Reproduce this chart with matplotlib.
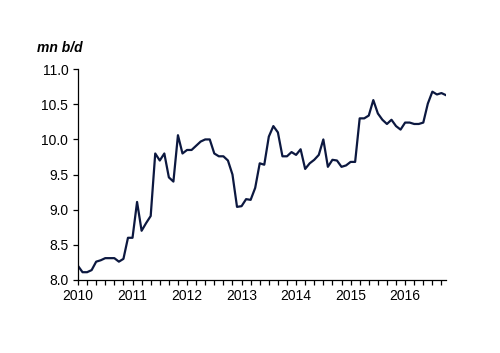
import numpy as np
import matplotlib.pyplot as plt
from matplotlib.ticker import MultipleLocator

plt.rcParams['font.family'] = ['Liberation Sans', 'DejaVu Sans']

# monthly output, Jan 2010 .. Oct 2016 (mn b/d)
start_year = 2010
output = [
    8.20, 8.11, 8.11, 8.14, 8.26, 8.28, 8.31, 8.31, 8.31, 8.26, 8.30, 8.60,
    8.60, 9.11, 8.70, 8.81, 8.91, 9.80, 9.70, 9.80, 9.46, 9.40, 10.06, 9.80,
    9.85, 9.85, 9.91, 9.97, 10.00, 10.00, 9.80, 9.76, 9.76, 9.70, 9.50, 9.04,
    9.05, 9.15, 9.14, 9.31, 9.66, 9.64, 10.04, 10.19, 10.10, 9.76, 9.76, 9.82,
    9.78, 9.86, 9.58, 9.66, 9.71, 9.78, 10.00, 9.61, 9.71, 9.70, 9.61, 9.63,
    9.68, 9.68, 10.30, 10.30, 10.34, 10.56, 10.37, 10.28, 10.22, 10.28, 10.19, 10.14,
    10.24, 10.24, 10.22, 10.22, 10.24, 10.51, 10.68, 10.64, 10.66, 10.63,
]
year_labels = [2010, 2011, 2012, 2013, 2014, 2015, 2016]
unit_label = "mn b/d"

x = start_year + np.arange(len(output)) / 12

fig = plt.figure(figsize=(5, 3.53), dpi=100)
ax = fig.add_axes([0.156, 0.207, 0.736, 0.597])

ax.plot(x, output, color="#0c1840", linewidth=1.6)

ax.set_xlim(start_year, x[-1])
ax.set_ylim(8.0, 11.0)
ax.set_xticks(year_labels)
ax.set_xticklabels([str(y) for y in year_labels])
ax.xaxis.set_minor_locator(MultipleLocator(2 / 12))
ax.set_yticks(np.arange(8.0, 11.01, 0.5))
ax.set_yticklabels([f"{v:.1f}" for v in np.arange(8.0, 11.01, 0.5)])

for side in ["top", "right"]:
    ax.spines[side].set_visible(False)
for side in ["left", "bottom"]:
    ax.spines[side].set_linewidth(0.9)
    ax.spines[side].set_color("black")

ax.tick_params(axis="both", which="both", direction="out", length=3.5,
               width=0.9, labelsize=10, colors="black")
ax.tick_params(axis="x", pad=3)

fig.text(0.074, 0.864, unit_label, fontsize=10, fontweight="bold",
         fontstyle="italic", ha="left", va="center")

fig.savefig("out.png", dpi=100)
